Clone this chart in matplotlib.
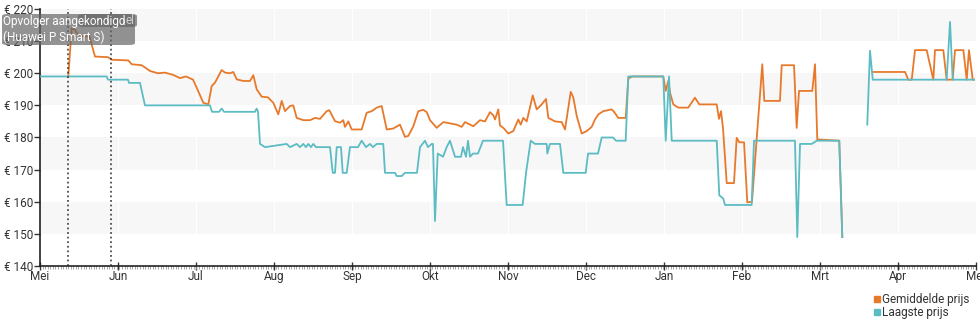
import numpy as np
import matplotlib
matplotlib.use("Agg")
import matplotlib.pyplot as plt
from matplotlib.patches import FancyBboxPatch
from matplotlib.lines import Line2D

plt.rcParams['font.family'] = ['Roboto', 'DejaVu Sans']

# x in months since 1 May, gap marked with nan
laag_x = [0.00, 0.855, 0.872, 1.128, 1.141, 1.282, 1.346, 2.179, 2.205, 2.295, 2.329, 2.359,
          2.756, 2.778, 2.795, 2.821, 2.885, 3.163, 3.205, 3.291, 3.333, 3.376, 3.410, 3.440,
          3.474, 3.504, 3.538, 3.718, 3.753, 3.782, 3.804, 3.859, 3.881, 3.932, 3.974, 4.077,
          4.124, 4.179, 4.231, 4.269, 4.317, 4.401, 4.423, 4.551, 4.573, 4.637, 4.679, 4.833,
          4.872, 4.936, 4.974, 5.022, 5.038, 5.064, 5.099, 5.167, 5.214, 5.256, 5.321, 5.397,
          5.423, 5.462, 5.487, 5.513, 5.551, 5.615, 5.663, 5.679, 5.936, 5.983, 6.188, 6.231,
          6.291, 6.346, 6.496, 6.504, 6.538, 6.667, 6.709, 6.996, 7.026, 7.154, 7.201, 7.346,
          7.385, 7.509, 7.542, 7.991, 8.022, 8.064, 8.099, 8.676, 8.709, 8.760, 8.782, 9.124,
          9.154, 9.679, 9.709, 9.744, 9.894, 9.958, 10.247, 10.286, 10.45,
          10.606, 10.641, 10.676, 11.624, 11.667, 11.701, 11.974]
laag_y = [199, 199, 198, 198, 197, 197, 190, 190, 188, 188, 189, 188,
          188, 189, 188, 178, 177, 178, 177, 178, 177, 178, 177, 178,
          177, 178, 177, 177, 169, 169, 177, 177, 169, 169, 177, 177,
          179, 177, 178, 177, 178, 178, 169, 169, 168, 168, 169, 169,
          177, 179, 177, 178, 178, 154, 175, 174, 177, 179, 174, 174,
          177, 174, 179, 174, 175, 175, 178, 179, 179, 159, 159, 169,
          179, 178, 178, 175, 178, 178, 169, 169, 175, 175, 180, 180,
          179, 179, 199, 199, 179, 199, 179, 179, 162, 161, 159, 159,
          179, 179, 149, 178, 178, 179, 179, 149, np.nan,
          184, 207, 198, 198, 216, 198, 198]

gem_x = [0.363, 0.406, 0.449, 0.487, 0.551, 0.615, 0.628, 0.705, 0.872, 0.919, 1.132, 1.176,
         1.304, 1.410, 1.513, 1.603, 1.705, 1.795, 1.872, 1.962, 2.009, 2.094, 2.158, 2.201,
         2.244, 2.329, 2.372, 2.436, 2.478, 2.522, 2.606, 2.692, 2.735, 2.778, 2.842, 2.923,
         2.991, 3.055, 3.099, 3.141, 3.205, 3.247, 3.291, 3.376, 3.462, 3.526, 3.590, 3.676,
         3.709, 3.782, 3.846, 3.888, 3.910, 3.953, 3.996, 4.124, 4.188, 4.253, 4.317, 4.381,
         4.445, 4.529, 4.615, 4.679, 4.722, 4.786, 4.850, 4.914, 4.958, 5.000, 5.086, 5.171,
         5.342, 5.406, 5.449, 5.555, 5.641, 5.705, 5.769, 5.812, 5.833, 5.876, 5.897, 5.940,
         6.004, 6.068, 6.132, 6.163, 6.196, 6.240, 6.317, 6.368, 6.432, 6.487, 6.517, 6.603,
         6.688, 6.731, 6.804, 6.837, 6.881, 6.945, 7.009, 7.073, 7.115, 7.158, 7.222, 7.282,
         7.329, 7.359, 7.414, 7.509, 7.542, 7.590, 7.991, 8.022, 8.055, 8.077, 8.119, 8.183,
         8.311, 8.397, 8.453, 8.676, 8.705, 8.731, 8.756, 8.804, 8.897, 8.932, 8.965, 9.026,
         9.068, 9.128, 9.188, 9.260, 9.286, 9.487, 9.509, 9.667, 9.701, 9.731, 9.901, 9.936,
         9.965, 10.247, 10.286, 10.45,
         10.676, 11.090, 11.132, 11.176, 11.218, 11.368, 11.453, 11.474, 11.581, 11.624,
         11.701, 11.731, 11.838, 11.881, 11.910, 11.958, 11.974]
gem_y = [199, 214, 213.5, 212, 211.5, 211.5, 212, 205.2, 205, 204.2, 204, 202.8,
         202.5, 200.7, 200, 200.2, 199.5, 198.5, 199, 198, 195.5, 190.8, 190.3, 196,
         197.1, 201, 200.2, 200, 200.4, 198.1, 197.6, 197.6, 199.4, 195, 192.7, 192.5,
         190.8, 187.2, 191.4, 188.2, 189.8, 190, 186.1, 185.4, 185.4, 186.1, 185.8, 188.2,
         188.5, 185.1, 184.6, 185.4, 183.3, 185, 182.5, 182.5, 187.7, 188.2, 189.3, 189.8,
         182.5, 182.8, 184, 180.2, 180.5, 183.5, 188.2, 188.6, 187.9, 185.4, 183, 184.8,
         184, 183.3, 184.8, 183.5, 185.4, 185, 187.9, 186.9, 185.6, 188.75, 183.75, 183,
         181.25, 182, 185.6, 184, 186.1, 185, 193.1, 188.75, 190.3, 192, 186.1, 185,
         184.8, 182.5, 194.2, 192.5, 186.7, 181.25, 182, 183.3, 185.6, 187.2, 188.2, 188.5,
         188.75, 188, 186.1, 186.1, 198.3, 199, 199, 194.5, 197.6, 194, 190.3, 189.3,
         189.3, 192.4, 190.3, 190.3, 185.8, 188.2, 183, 165.8, 165.8, 179.9, 178.5, 178.5,
         159.8, 160, 179.4, 202.8, 191.4, 191.4, 202.5, 202.5, 183, 194.5, 194.5, 202.8,
         179.4, 179, 149, np.nan,
         200.4, 200.4, 198, 198, 207.2, 207.2, 198, 207.2, 207.2, 198,
         198, 207.2, 207.2, 198, 207.2, 198, 198]

maanden = ['Mei', 'Jun', 'Jul', 'Aug', 'Sep', 'Okt', 'Nov', 'Dec', 'Jan', 'Feb', 'Mrt', 'Apr', 'Mei']
events = [0.359, 0.906]

oranje = '#e8792b'
teal = '#5bbcc4'

fig = plt.figure(figsize=(9.8, 3.25), dpi=100)
ax = fig.add_axes([40 / 980, 1 - 266 / 325, 936 / 980, 257 / 325])

# alternating bands
for lo in [150, 170, 190, 210]:
    ax.axhspan(lo, lo + 10, color='#f7f7f7', zorder=0, lw=0)
for m in range(1, 12):
    ax.axvline(m, color='white', lw=0.8, zorder=0.5)

ax.plot(gem_x, gem_y, color=oranje, lw=1.3, zorder=2)
ax.plot(laag_x, laag_y, color=teal, lw=1.3, zorder=3)

for e in events:
    ax.axvline(e, color='#333333', ls=(0, (1.2, 1.8)), lw=1.1, zorder=4)

ax.set_xlim(0, 12)
ax.set_ylim(140, 220)
ax.set_yticks(range(140, 221, 10))
ax.set_yticklabels(['€ %d' % v for v in range(140, 221, 10)])
ax.set_xticks(range(13))
ax.set_xticklabels(maanden)
ax.set_xticks(np.arange(0, 12, 12 / 365), minor=True)
ax.tick_params(axis='y', direction='out', length=4, width=1, color='#333333',
               labelsize=8.5, labelcolor='#333333', pad=1)
ax.tick_params(axis='x', which='major', direction='inout', length=6, width=1, color='#333333',
               labelsize=8.5, labelcolor='#333333', pad=0)
ax.tick_params(axis='x', which='minor', direction='out', length=2, width=0.6, color='#999999')
for s in ['top', 'right']:
    ax.spines[s].set_visible(False)
for s in ['left', 'bottom']:
    ax.spines[s].set_color('#222222')
    ax.spines[s].set_linewidth(1.2)

# annotation boxes
fig.patches.append(FancyBboxPatch((78 / 980, 1 - 27 / 325), 59 / 980, 13 / 325,
                                  boxstyle='round,pad=0,rounding_size=0.006',
                                  transform=fig.transFigure, facecolor='#666666',
                                  alpha=0.7, edgecolor='none', zorder=5))
fig.patches.append(FancyBboxPatch((2 / 980, 1 - 45 / 325), 133 / 980, 31 / 325,
                                  boxstyle='round,pad=0,rounding_size=0.006',
                                  transform=fig.transFigure, facecolor='#666666',
                                  alpha=0.7, edgecolor='none', zorder=5))
fig.text(126 / 980, 1 - 21 / 325, 'el', color='#d0d0d0', fontsize=8.5, va='center', zorder=6)
fig.text(3 / 980, 1 - 21 / 325, 'Opvolger aangekondigd', color='white', fontsize=8.5,
         va='center', zorder=7)
fig.text(3 / 980, 1 - 37 / 325, '(Huawei P Smart S)', color='white', fontsize=8.5,
         va='center', zorder=7)

handles = [Line2D([], [], ls='none', marker='s', markersize=5, color=oranje),
           Line2D([], [], ls='none', marker='s', markersize=5, color=teal)]
fig.legend(handles, ['Gemiddelde prijs', 'Laagste prijs'], loc='upper left',
           bbox_to_anchor=(868 / 980, 1 - 287 / 325), frameon=False, fontsize=8.5,
           handlelength=0.5, handletextpad=0.2, labelspacing=0.05, borderpad=0,
           labelcolor='#333333')

fig.savefig('out.png', dpi=100)
